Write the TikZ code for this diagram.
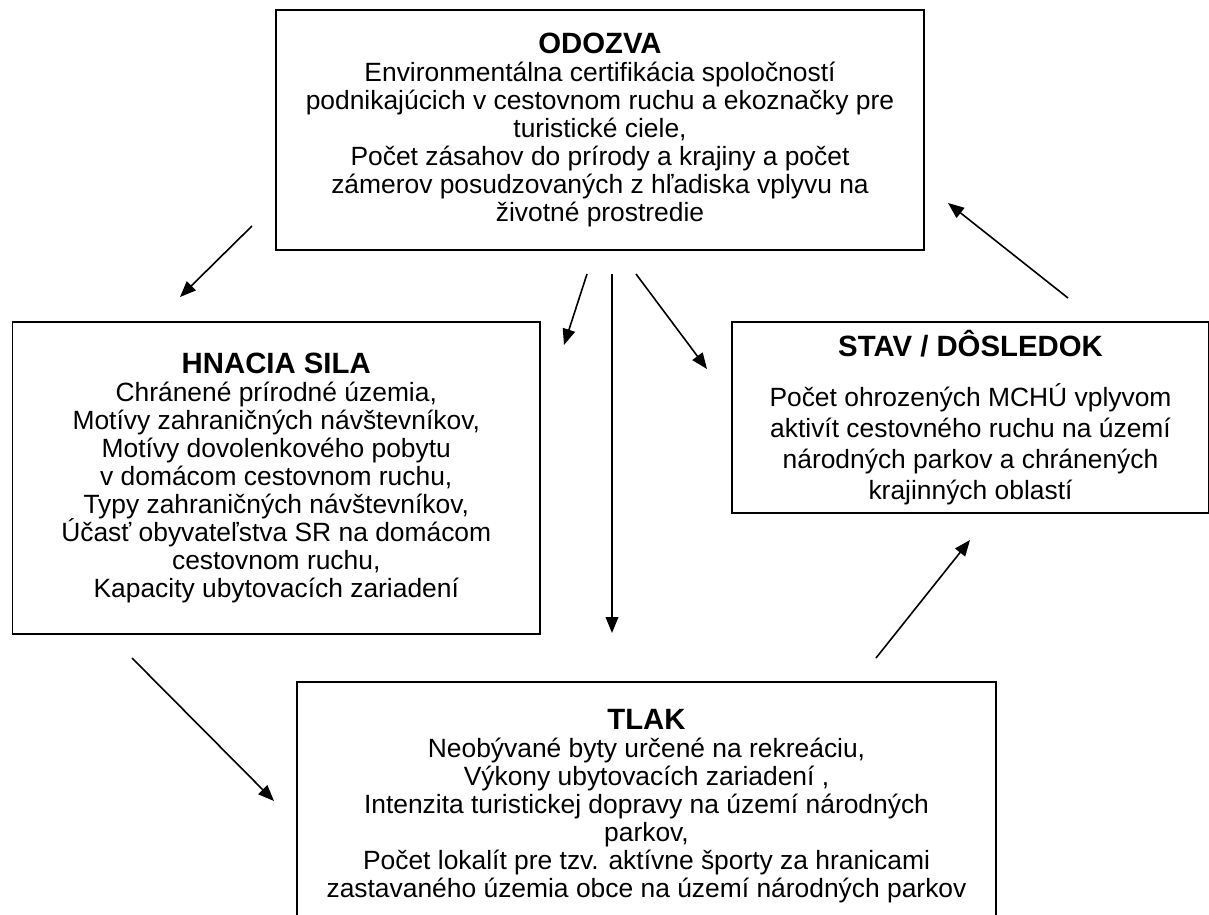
\documentclass[tikz,border=0pt]{standalone}
\usepackage{fontspec}
\setmainfont{Liberation Sans}
\usetikzlibrary{positioning,arrows.meta}

\newcommand{\boxtitle}[1]{{\fontsize{22pt}{21pt}\selectfont\bfseries #1}}
\newcommand{\bodyfont}{\fontsize{19.8pt}{21pt}\selectfont\lineskiplimit=-20pt\relax}
\newcommand{\stavfont}{\fontsize{19.8pt}{23.25pt}\selectfont\lineskiplimit=-20pt\relax}

\begin{document}
\begin{tikzpicture}[x=0.75pt, y=-0.75pt,
  box/.style={draw, line width=1.2pt, align=center, inner sep=0pt, font=\bodyfont},
  link/.style={line width=1.2pt, -{Triangle[length=12pt,width=9.5pt]}}]
\useasboundingbox (0,0) rectangle (1209,914);
\clip (0,0) rectangle (1209,914);

\node[box, minimum width=486pt, minimum height=180pt] (odozva) at (600,130) {\boxtitle{ODOZVA}\\
Environmentálna certifikácia spoločností\\
podnikajúcich v cestovnom ruchu a ekoznačky pre\\
turistické ciele,\\
Počet zásahov do prírody a krajiny a počet\\
zámerov posudzovaných z hľadiska vplyvu na\\
životné prostredie};

\node[box, minimum width=395.6pt, minimum height=234pt] (hnacia) at (276.25,478) {\boxtitle{HNACIA SILA}\\
Chránené prírodné územia,\\
Motívy zahraničných návštevníkov,\\
Motívy dovolenkového pobytu\\
v domácom cestovnom ruchu,\\
Typy zahraničných návštevníkov,\\
Účasť obyvateľstva SR na domácom\\
cestovnom ruchu,\\
Kapacity ubytovacích zariadení};

\node[box, minimum width=357.75pt, minimum height=143.25pt, font=\stavfont] (stav) at (970.5,417.5) {\boxtitle{STAV / DÔSLEDOK}\\[14pt]
Počet ohrozených MCHÚ vplyvom\\
aktivít cestovného ruchu na území\\
národných parkov a chránených\\
krajinných oblastí};

\node[box, minimum width=524.25pt, minimum height=186pt] (tlak) at (646.5,806) {\boxtitle{TLAK}\\
Neobývané byty určené na rekreáciu,\\
Výkony ubytovacích zariadení ,\\
Intenzita turistickej dopravy na území národných\\
parkov,\\
Počet lokalít pre tzv. aktívne športy za hranicami\\
zastavaného územia obce na území národných parkov};

% free ends of the arrows
\coordinate (odz-left) at (252,226);
\coordinate (hna-in) at (180,297);
\coordinate (odz-mid1) at (587,274);
\coordinate (hna-in2) at (564,345);
\coordinate (odz-mid2) at (612,274);
\coordinate (tlak-in) at (612,633);
\coordinate (odz-mid3) at (636,274);
\coordinate (stav-in) at (707,369);
\coordinate (stav-out) at (1068,298);
\coordinate (odz-in) at (948,203);
\coordinate (tlak-out) at (876,658);
\coordinate (stav-in2) at (970,540);
\coordinate (hna-out) at (132,658);
\coordinate (tlak-in2) at (274,801);

\draw[link] (odz-left) -- (hna-in);
\draw[link] (odz-mid1) -- (hna-in2);
\draw[link] (odz-mid2) -- (tlak-in);
\draw[link] (odz-mid3) -- (stav-in);
\draw[link] (stav-out) -- (odz-in);
\draw[link] (tlak-out) -- (stav-in2);
\draw[link] (hna-out) -- (tlak-in2);
\end{tikzpicture}
\end{document}
